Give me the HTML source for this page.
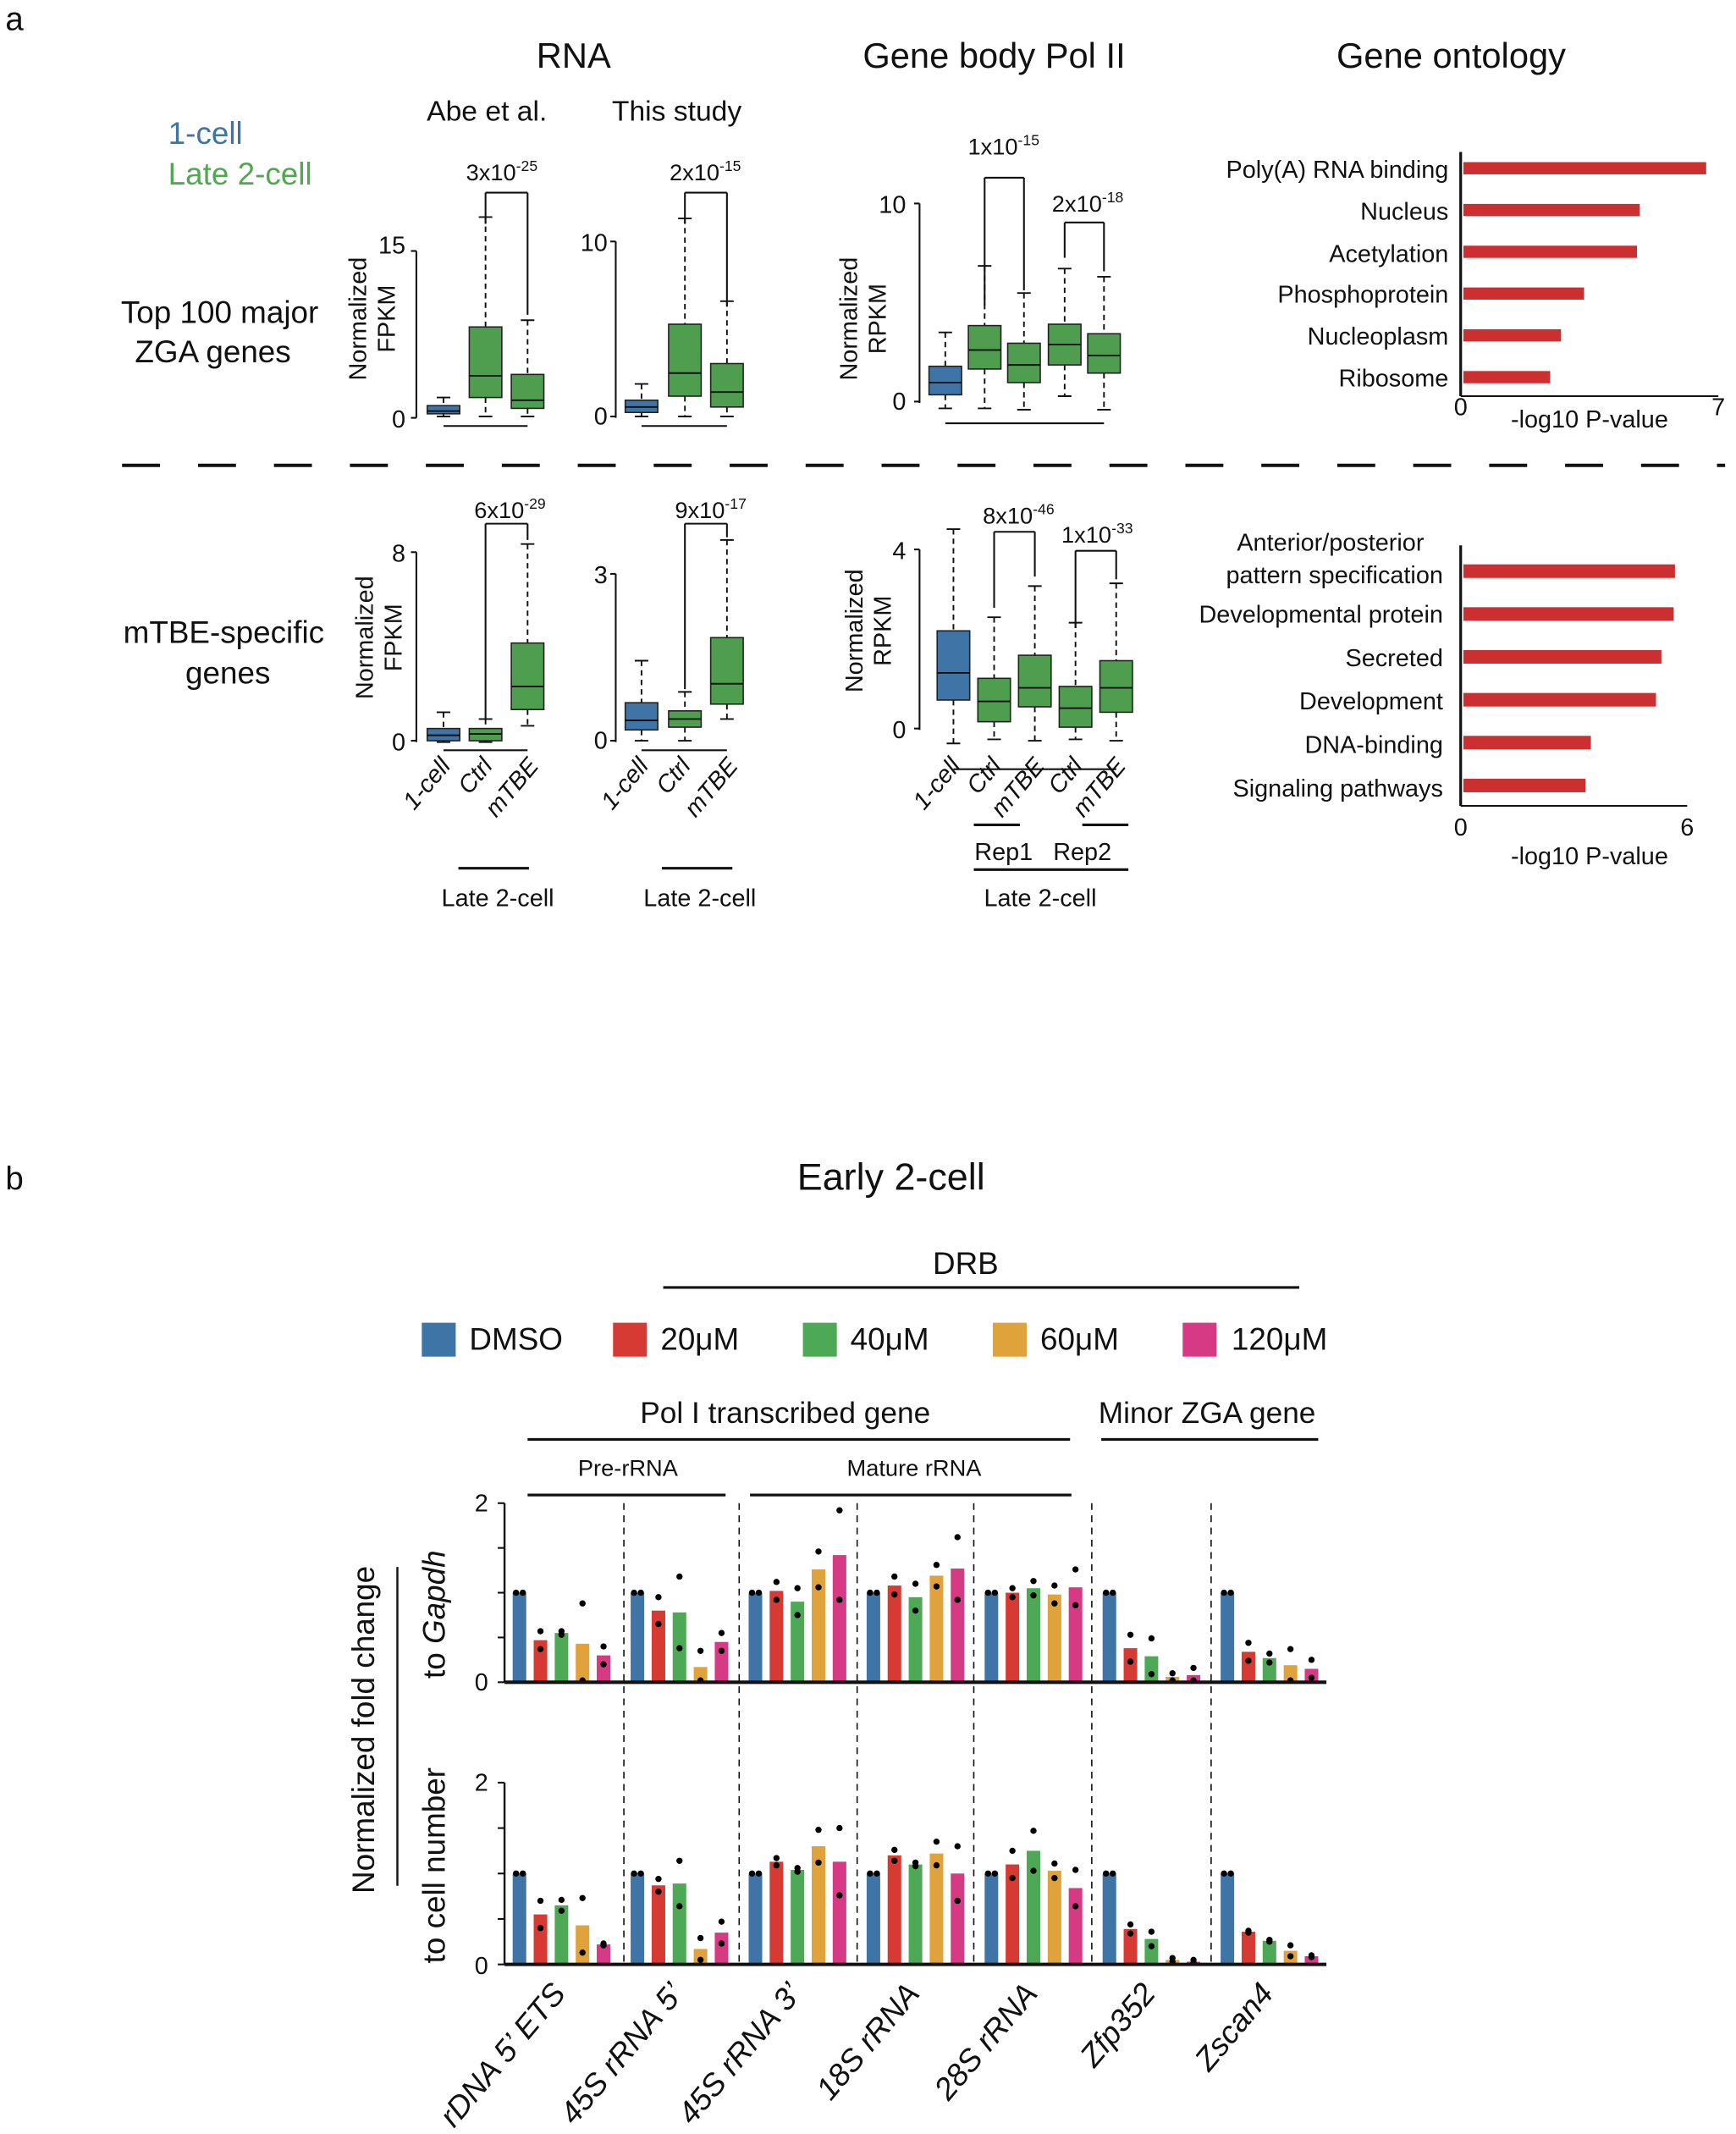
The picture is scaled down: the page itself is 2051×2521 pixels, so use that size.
<!DOCTYPE html>
<html><head><meta charset="utf-8"><style>
html,body{margin:0;padding:0;background:#fff}
svg{display:block}
text{font-family:"Liberation Sans",Arial,sans-serif;fill:#111}
</style></head><body>
<svg id="s" width="2051" height="2521" viewBox="0 0 1280 1573" preserveAspectRatio="none" xmlns="http://www.w3.org/2000/svg">
<rect width="1280" height="1573" fill="#fff"/>
<g id="g"></g>
<text x="4" y="22" font-size="24">a</text>
<text x="4" y="877" font-size="24">b</text>
<text x="423" y="50" font-size="26" text-anchor="middle">RNA</text>
<text x="733" y="50" font-size="26" text-anchor="middle">Gene body Pol II</text>
<text x="1070" y="50" font-size="26" text-anchor="middle">Gene ontology</text>
<text x="359" y="89" font-size="21" text-anchor="middle">Abe et al.</text>
<text x="499" y="89" font-size="21" text-anchor="middle">This study</text>
<text x="124" y="106" font-size="23" style="fill:#3f74a6">1-cell</text>
<text x="124" y="136" font-size="23" style="fill:#52a852">Late 2-cell</text>
<text x="162" y="238" font-size="23" text-anchor="middle">Top 100 major</text>
<text x="157" y="267" font-size="23" text-anchor="middle">ZGA genes</text>
<text x="165" y="474" font-size="23" text-anchor="middle">mTBE-specific</text>
<text x="168" y="504" font-size="23" text-anchor="middle">genes</text>
<g font-size="18" text-anchor="middle">
<text transform="translate(270,235) rotate(-90)">Normalized</text>
<text transform="translate(291,235) rotate(-90)">FPKM</text>
<text transform="translate(632,235) rotate(-90)">Normalized</text>
<text transform="translate(653,235) rotate(-90)">RPKM</text>
<text transform="translate(275,470) rotate(-90)">Normalized</text>
<text transform="translate(296,470) rotate(-90)">FPKM</text>
<text transform="translate(636,465) rotate(-90)">Normalized</text>
<text transform="translate(657,465) rotate(-90)">RPKM</text>
</g>
<g font-size="18" text-anchor="end">
<text x="299" y="187">15</text><text x="299" y="315">0</text>
<text x="448" y="185">10</text><text x="448" y="313">0</text>
<text x="668" y="157">10</text><text x="668" y="302">0</text>
<text x="299" y="414">8</text><text x="299" y="553">0</text>
<text x="448" y="430">3</text><text x="448" y="552">0</text>
<text x="668" y="412">4</text><text x="668" y="544">0</text>
</g>
<g font-size="17" text-anchor="middle">
<text x="370" y="133">3x10<tspan font-size="11" dy="-7">-25</tspan></text>
<text x="520" y="133">2x10<tspan font-size="11" dy="-7">-15</tspan></text>
<text x="740" y="114">1x10<tspan font-size="11" dy="-7">-15</tspan></text>
<text x="802" y="156">2x10<tspan font-size="11" dy="-7">-18</tspan></text>
<text x="376" y="382">6x10<tspan font-size="11" dy="-7">-29</tspan></text>
<text x="524" y="382">9x10<tspan font-size="11" dy="-7">-17</tspan></text>
<text x="751" y="386">8x10<tspan font-size="11" dy="-7">-46</tspan></text>
<text x="809" y="400">1x10<tspan font-size="11" dy="-7">-33</tspan></text>
</g>
<g font-size="18" font-style="italic" text-anchor="end">
<text transform="translate(333,565) rotate(-50)">1-cell</text>
<text transform="translate(364,565) rotate(-50)">Ctrl</text>
<text transform="translate(398,565) rotate(-50)">mTBE</text>
<text transform="translate(479,565) rotate(-50)">1-cell</text>
<text transform="translate(510,565) rotate(-50)">Ctrl</text>
<text transform="translate(545,565) rotate(-50)">mTBE</text>
<text transform="translate(709,565) rotate(-50)">1-cell</text>
<text transform="translate(739,565) rotate(-50)">Ctrl</text>
<text transform="translate(771,565) rotate(-50)">mTBE</text>
<text transform="translate(799,565) rotate(-50)">Ctrl</text>
<text transform="translate(831,565) rotate(-50)">mTBE</text>
</g>
<g font-size="18" text-anchor="middle">
<text x="367" y="668">Late 2-cell</text>
<text x="516" y="668">Late 2-cell</text>
<text x="767" y="668">Late 2-cell</text>
<text x="740" y="634">Rep1</text>
<text x="798" y="634">Rep2</text>
</g>
<g font-size="18" text-anchor="end">
<text x="1068" y="131">Poly(A) RNA binding</text>
<text x="1068" y="162">Nucleus</text>
<text x="1068" y="193">Acetylation</text>
<text x="1068" y="223">Phosphoprotein</text>
<text x="1068" y="254">Nucleoplasm</text>
<text x="1068" y="285">Ribosome</text>
<text x="1064" y="430">pattern specification</text>
<text x="1064" y="459">Developmental protein</text>
<text x="1064" y="491">Secreted</text>
<text x="1064" y="523">Development</text>
<text x="1064" y="555">DNA-binding</text>
<text x="1064" y="587">Signaling pathways</text>
</g>
<text x="981" y="406" font-size="18" text-anchor="middle">Anterior/posterior</text>
<g font-size="18" text-anchor="middle">
<text x="1077" y="306">0</text><text x="1267" y="306">7</text>
<text x="1172" y="315">-log10 P-value</text>
<text x="1077" y="616">0</text><text x="1244" y="616">6</text>
<text x="1172" y="637">-log10 P-value</text>
</g>
<text x="657" y="877" font-size="28" text-anchor="middle">Early 2-cell</text>
<text x="712" y="939" font-size="23" text-anchor="middle">DRB</text>
<g font-size="23">
<text x="346" y="995">DMSO</text><text x="487" y="995">20μM</text><text x="627" y="995">40μM</text><text x="767" y="995">60μM</text><text x="908" y="995">120μM</text>
</g>
<text x="579" y="1049" font-size="22" text-anchor="middle">Pol I transcribed gene</text>
<text x="890" y="1049" font-size="22" text-anchor="middle">Minor ZGA gene</text>
<text x="463" y="1088" font-size="17" text-anchor="middle">Pre-rRNA</text>
<text x="674" y="1088" font-size="17" text-anchor="middle">Mature rRNA</text>
<g font-size="18" text-anchor="end">
<text x="360" y="1114">2</text><text x="360" y="1246">0</text>
<text x="360" y="1320">2</text><text x="360" y="1455">0</text>
</g>
<text transform="translate(276,1275) rotate(-90)" font-size="23" text-anchor="middle">Normalized fold change</text>
<text transform="translate(328,1190) rotate(-90)" font-size="23" text-anchor="middle">to <tspan font-style="italic">Gapdh</tspan></text>
<text transform="translate(328,1375) rotate(-90)" font-size="23" text-anchor="middle">to cell number</text>
<g font-size="23" font-style="italic" text-anchor="end">
<text transform="translate(418,1470) rotate(-50)">rDNA 5’ ETS</text>
<text transform="translate(505,1470) rotate(-50)">45S rRNA 5’</text>
<text transform="translate(592,1470) rotate(-50)">45S rRNA 3’</text>
<text transform="translate(679,1470) rotate(-50)">18S rRNA</text>
<text transform="translate(766,1470) rotate(-50)">28S rRNA</text>
<text transform="translate(853,1470) rotate(-50)">Zfp352</text>
<text transform="translate(940,1470) rotate(-50)">Zscan4</text>
</g>
</svg>
<script>
(function(){
var g=document.getElementById('g'),NS='http://www.w3.org/2000/svg';
function el(t,a){var e=document.createElementNS(NS,t);for(var k in a)e.setAttribute(k,a[k]);g.appendChild(e);return e;}
function ln(x1,y1,x2,y2,w,d){el('line',{x1:x1,y1:y1,x2:x2,y2:y2,stroke:'#111','stroke-width':w||1.3,'stroke-dasharray':d||'none'});}
function rc(x,y,w,h,f){el('rect',{x:x,y:y,width:w,height:h,fill:f});}
var B='#3f74a6',G='#4f9e4f';
function box(x,wt,bt,med,bb,wb,c){var w=24;ln(x,wt,x,bt,1.2,'4,3');ln(x,bb,x,wb,1.2,'4,3');ln(x-5,wt,x+5,wt,1.2);ln(x-5,wb,x+5,wb,1.2);
 el('rect',{x:x-w/2,y:bt,width:w,height:bb-bt,fill:c,stroke:'#222','stroke-width':1});ln(x-w/2,med,x+w/2,med,1.2);}
function axis(x,t,b){ln(x,t,x,b,1.3);}
function br(x1,y1,x2,y2,t){ln(x1,y1,x1,t);ln(x1,t,x2,t);ln(x2,t,x2,y2);}
axis(307,185,308);ln(303,185,307,185);ln(303,308,307,308);
box(327,293,299,303,305,307,B);box(358,160,241,277,293,307,G);box(389,236,276,295,301,307,G);
br(358,165,389,232,142);ln(327,314,389,314);
axis(454,178,308);ln(450,178,454,178);ln(450,307,454,307);
box(473,283,295,300,304,307,B);box(505,161,239,275,292,307,G);box(536,222,268,289,300,307,G);
br(505,165,536,226,142);ln(473,314,536,314);
axis(678,150,297);ln(674,150,678,150);ln(674,296,678,296);
box(697,245,270,282,291,301,B);box(726,196,240,258,272,301,G);box(755,216,253,269,282,302,G);box(785,198,239,254,269,292,G);box(814,204,246,262,275,302,G);
br(726,225,755,214,131);br(785,190,814,200,164);ln(697,312,814,312);
axis(307,407,547);ln(303,407,307,407);ln(303,546,307,546);
box(327,525,537,542,546,547,B);box(358,530,537,541,546,547,G);box(389,401,474,506,523,535,G);
br(358,530,389,398,386);ln(327,553,389,553);
axis(454,423,547);ln(450,423,454,423);ln(450,546,454,546);
box(473,487,518,531,538,546,B);box(505,510,524,530,536,546,G);box(536,398,470,504,519,530,G);
br(505,508,536,396,386);ln(473,553,536,553);
axis(678,405,538);ln(674,405,678,405);ln(674,537,678,537);
box(703,390,465,496,516,548,B);box(733,455,500,517,532,545,G);box(763,432,483,507,521,546,G);box(793,459,506,522,536,545,G);box(823,430,487,507,525,546,G);
br(733,448,763,425,392);br(793,463,823,427,406);ln(703,567,823,567);
ln(718,608,752,608,2);ln(798,608,832,608,2);ln(718,641,832,641,2);
ln(338,640,390,640,2);ln(488,640,540,640,2);
ln(90,343,1272,343,2.5,'28,28');
var R='#cc2f2f';
ln(1077,112,1077,292,2);ln(1077,292,1267,292,1.3);
[1258,1209,1207,1168,1151,1143].forEach(function(v,i){rc(1079,124+i*30.8-4.5,v-1079,9,R);});
ln(1077,402,1077,594,2);ln(1077,594,1244,594,1.3);
[1235,1234,1225,1221,1173,1169].forEach(function(v,i){rc(1079,421+i*31.6-5,v-1079,10,R);});
ln(489,949,958,949,2);ln(389,1061,789,1061,2);ln(812,1061,972,1061,2);ln(389,1102,535,1102,2);ln(553,1102,790,1102,2);
var C=[B,'#d63a33','#4ea957','#e0a23a','#d63a85'];
var lx=[311,452,592,732,872];lx.forEach(function(x,i){rc(x,975,25,25,C[i]);});
var tpv=[[1,.47,.55,.43,.3],[1,.8,.78,.17,.45],[1,1.02,.9,1.26,1.42],[1,1.08,.95,1.19,1.27],[1,1,1.05,.98,1.06],[1,.38,.29,.06,.08],[1,.34,.27,.19,.15]];
var sp=[[0,.1,.02,.45,.1],[0,.15,.4,.18,.1],[0,.1,.15,.2,.5],[0,.1,.15,.12,.35],[0,.05,.08,.1,.2],[0,.15,.2,.04,.08],[0,.1,.05,.18,.1]];
var bot=[[1,.55,.65,.43,.22],[1,.87,.89,.17,.35],[1,1.13,1.04,1.3,1.13],[1,1.2,1.1,1.22,1],[1,1.1,1.25,1.03,.84],[1,.39,.28,.05,.03],[1,.36,.26,.15,.09]];
var bsp=[[0,.15,.06,.3,.01],[0,.07,.25,.12,.12],[0,.04,.02,.18,.37],[0,.06,.02,.13,.3],[0,.15,.22,.08,.2],[0,.05,.08,.02,.02],[0,.01,.01,.06,.01]];
function panel(z,s,vals,sps){ln(372,z-2*s,372,z,1.5);for(var t=0;t<=4;t++)ln(367,z-t*s/2,372,z-t*s/2,1.3);
 vals.forEach(function(gv,gi){var x0=378+gi*87;gv.forEach(function(v,bi){var x=x0+bi*15.5;rc(x,z-v*s,10,v*s,C[bi]);
  var d=sps[gi][bi];if(bi==0){el('circle',{cx:x+2.5,cy:z-v*s,r:2.3,fill:'#000'});el('circle',{cx:x+7.5,cy:z-v*s,r:2.3,fill:'#000'});}
  else{el('circle',{cx:x+5,cy:z-(v+d)*s,r:2.3,fill:'#000'});el('circle',{cx:x+5,cy:z-Math.max(0.02,v-d)*s,r:2.3,fill:'#000'});}});});
 ln(372,z,978,z,2.5);}
panel(1240,66,tpv,sp);panel(1448,67,bot,bsp);
[460,545,632,718,805,893].forEach(function(x){ln(x,1108,x,1446,1,'5,4');});
ln(293,1155,293,1390,1.5);
})();
</script>
</body></html>
